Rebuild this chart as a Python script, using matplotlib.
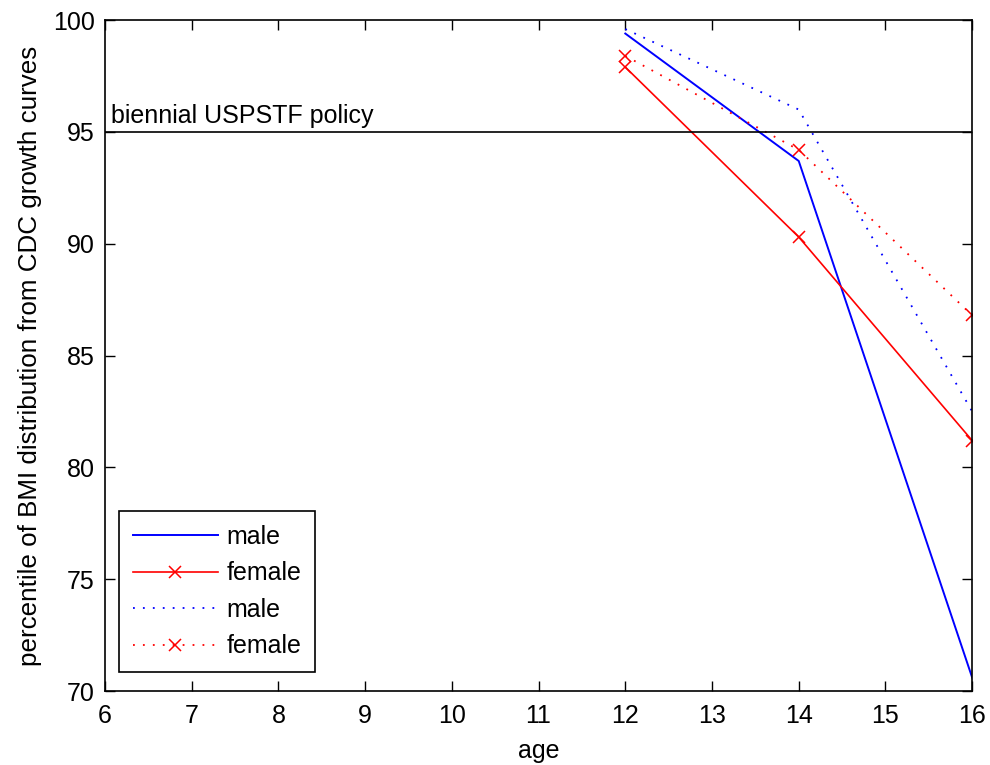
import matplotlib
matplotlib.use('Agg')
import matplotlib.pyplot as plt

# values
age = [12, 14, 16]
male_solid = [99.4, 93.7, 70.6]
female_solid = [97.9, 90.3, 81.2]
male_dotted = [99.6, 96.0, 82.5]
female_dotted = [98.4, 94.2, 86.8]
policy_level = 95
xticks = list(range(6, 17))
yticks = list(range(70, 101, 5))

plt.rcParams['font.family'] = ['Liberation Sans', 'DejaVu Sans']
FS = 18

fig = plt.figure(figsize=(9.9, 7.65), dpi=100)
ax = fig.add_axes([0.106, 0.0967, 0.876, 0.877])

dots = (0, (1, 4.5))
ax.plot(age, male_solid, '-', color='#0000ff', lw=1.4, label='male')
ax.plot(age, female_solid, '-x', color='#ff0000', lw=1.2, ms=8, mew=1.1, label='female')
ax.plot(age, male_dotted, linestyle=dots, color='#0000ff', lw=1.3, label='male')
ax.plot(age, female_dotted, linestyle=dots, marker='x', color='#ff0000', lw=1.3,
        ms=8, mew=1.1, label='female')

ax.axhline(policy_level, color='black', lw=1.2)
ax.text(6.07, policy_level + 0.4, 'biennial USPSTF policy', fontsize=FS, va='baseline')

ax.set_xlim(6, 16)
ax.set_ylim(70, 100)
ax.set_xticks(xticks)
ax.set_yticks(yticks)
ax.tick_params(direction='in', top=True, right=True, length=7, width=1,
               labelsize=FS)
ax.tick_params(axis='x', pad=9)
ax.tick_params(axis='y', pad=7.5)
for s in ax.spines.values():
    s.set_linewidth(1.2)

ax.set_xlabel('age', fontsize=FS, labelpad=8)
ax.set_ylabel('percentile of BMI distribution from CDC growth curves', fontsize=18.7,
              labelpad=8)

leg = ax.legend(loc='lower left', bbox_to_anchor=(0.0161, 0.0283), fontsize=FS,
                handlelength=3.4, handletextpad=0.35, numpoints=1, fancybox=False,
                framealpha=1, edgecolor='black', borderpad=0.55, labelspacing=0.5,
                borderaxespad=0)
leg.get_frame().set_linewidth(1.2)

fig.savefig('out.png')
